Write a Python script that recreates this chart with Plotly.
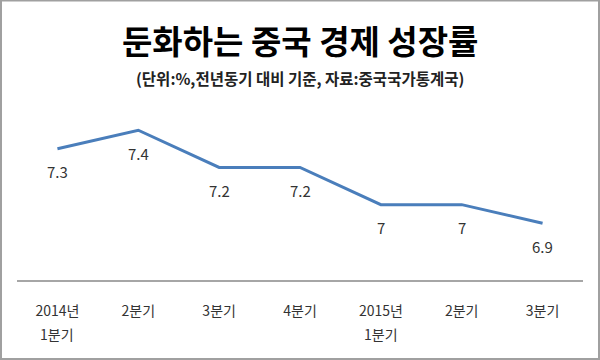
import plotly.graph_objects as go

quarters = ["1분기", "2분기", "3분기", "4분기", "1분기", "2분기", "3분기"]
years = ["2014년", "", "", "", "2015년", "", ""]
growth = [7.3, 7.4, 7.2, 7.2, 7.0, 7.0, 6.9]

title_text = "둔화하는 중국 경제 성장률"
subtitle_text = "(단위:%,전년동기 대비 기준, 자료:중국국가통계국)"

FONT = "Noto Sans CJK KR"
xpos = list(range(len(quarters)))
# first tick line: the year where a new year starts, otherwise the quarter
tick_top = [y if y else q for y, q in zip(years, quarters)]

fig = go.Figure()
fig.add_trace(go.Scatter(
    x=xpos, y=growth, mode="lines",
    line=dict(color="#4a7ebb", width=3),
    hoverinfo="skip", showlegend=False,
))

L, R, T, B = 17, 17, 93, 80
W, H = 600, 360
pw, ph = W - L - R, H - T - B

annotations = []
for xi, v in zip(xpos, growth):
    annotations.append(dict(
        x=xi, y=v, xref="x", yref="y", text=f"{v:g}", showarrow=False,
        yshift=-23, font=dict(family=FONT, size=15, color="#333333"),
    ))
# second line of tick labels (quarter under the year)
for xi, y, q in zip(xpos, years, quarters):
    if y:
        annotations.append(dict(
            x=xi, xref="x", y=0, yref="paper", yshift=-(334 - (H - B)),
            text=q, showarrow=False, xanchor="center", yanchor="middle",
            font=dict(family=FONT, size=14, color="#333333"),
        ))
annotations.append(dict(
    x=0.5, xref="paper", y=(H - B - 40) / ph, yref="paper", text=f"<b>{title_text}</b>",
    showarrow=False, font=dict(family=FONT, size=33, color="#000000"),
    xanchor="center", yanchor="middle",
))
annotations.append(dict(
    x=0.5, xref="paper", y=(H - B - 78) / ph, yref="paper", text=f"<b>{subtitle_text}</b>",
    showarrow=False, font=dict(family=FONT, size=15.5, color="#222222"),
    xanchor="center", yanchor="middle",
))

fig.update_layout(
    width=W, height=H,
    margin=dict(l=L, r=R, t=T, b=B),
    paper_bgcolor="white", plot_bgcolor="white",
    annotations=annotations,
    xaxis=dict(
        tickmode="array", tickvals=xpos, ticktext=tick_top,
        range=[-0.5, len(quarters) - 0.5],
        showgrid=False, zeroline=False,
        showline=True, linecolor="#a6a6a6", linewidth=2,
        ticks="", tickfont=dict(family=FONT, size=14, color="#333333"),
        ticklabelstandoff=17,
    ),
    yaxis=dict(
        range=[6.595, 7.6], visible=False, showgrid=False, zeroline=False,
    ),
    shapes=[dict(
        type="rect", xref="paper", yref="paper",
        x0=(1 - L) / pw, x1=(W - 1 - L) / pw,
        y0=(-(B - 1)) / ph, y1=(H - B - 0.5) / ph,
        line=dict(color="#a0a0a0", width=2), fillcolor="rgba(0,0,0,0)",
    )],
)

fig.write_html(
    "out.html",
    config={"displayModeBar": False},
    post_script="document.body.style.margin='0';document.body.style.padding='0';document.body.style.overflow='hidden';",
)
